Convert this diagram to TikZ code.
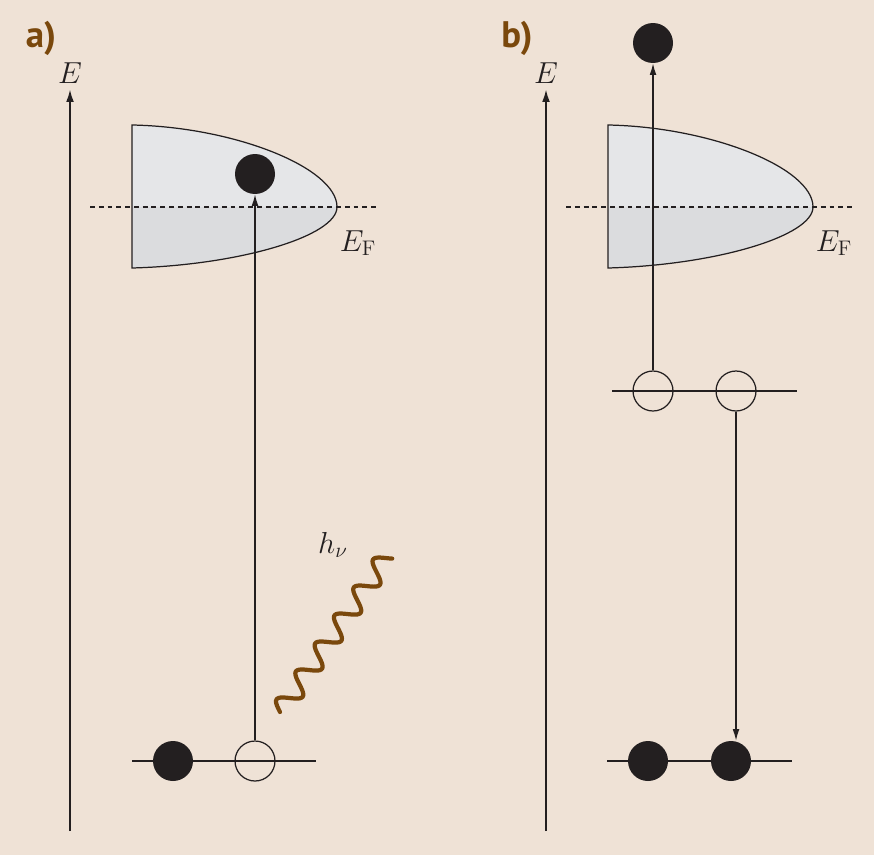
\documentclass[tikz,border=0pt]{standalone}
\usepackage{fontspec}
\newfontfamily\panelfont{PT Sans}
\usepackage{tikz}
\usetikzlibrary{arrows.meta}

\definecolor{paper}{RGB}{239,226,214}
\definecolor{rust}{RGB}{122,72,12}
\definecolor{bandup}{RGB}{229,230,232}
\definecolor{bandlow}{RGB}{219,220,222}
\definecolor{ink}{RGB}{35,31,32}

\tikzset{
  electron/.style={circle,fill=ink,inner sep=0pt,minimum size=0.8cm},
  hole/.style={circle,draw=ink,line width=0.7pt,inner sep=0pt,minimum size=0.8cm},
  level/.style={draw=ink,line width=0.7pt},
  jump/.style={draw=ink,line width=0.7pt,-{Latex[length=6.5pt,width=3.8pt]}},
  axis/.style={draw=ink,line width=0.85pt,-{Latex[length=7pt,width=4.4pt]}},
  fermi/.style={draw=ink,line width=0.65pt,dash pattern=on 2.8pt off 2.2pt},
  panel/.style={text=rust,font=\panelfont\bfseries\fontsize{21}{22}\selectfont},
  sym/.style={text=ink,font=\fontsize{17.28}{20}\selectfont},
}
\newcommand{\bandpath}{(132,125) .. controls (235,127) and (337,168) .. (337,207)
  .. controls (337,236) and (240,265) .. (132,268) -- cycle}

\begin{document}
\begin{tikzpicture}[x=0.02cm,y=-0.02cm]
\fill[paper] (0,0) rectangle (874,855);
\useasboundingbox (0,0) rectangle (874,855);

% a) photon absorption
\node[panel] (la) at (41,38) {a)};
\node[sym] (Ea) at (70,73) {$E$};
\coordinate (a0) at (70,831);
\draw[axis] (a0) -- (Ea);
\fill[bandup] \bandpath;
\begin{scope}
\clip (0,207) rectangle (874,300);
\fill[bandlow] \bandpath;
\end{scope}
\draw[ink,line width=0.7pt] \bandpath;
\draw[fermi] (90,207) -- (378,207);
\node[sym] (EFa) at (358,243) {$E_{\mathrm{F}}$};
\draw[level] (132,761) -- (316,761);
\node[electron] (ea1) at (173,761) {};
\node[hole] (ha1) at (255,761) {};
\node[electron] (ea2) at (255,174) {};
\draw[jump] (ha1) -- (ea2);
\begin{scope}[shift={(280,712)},rotate=55.4]
\draw[rust,line width=2.4pt,line cap=round] plot[domain=0:190,samples=160,smooth]
  (\x,{-10*sin(\x/34*360)});
\end{scope}
\node[sym] (hv) at (333,545) {$h_\nu$};

% b) Auger process
\begin{scope}[shift={(476,0)}]
\node[panel] (lb) at (41,38) {b)};
\node[sym] (Eb) at (70,73) {$E$};
\coordinate (b0) at (70,831);
\draw[axis] (b0) -- (Eb);
\fill[bandup] \bandpath;
\begin{scope}
\clip (0,207) rectangle (874,300);
\fill[bandlow] \bandpath;
\end{scope}
\draw[ink,line width=0.7pt] \bandpath;
\draw[fermi] (90,207) -- (378,207);
\node[sym] (EFb) at (358,243) {$E_{\mathrm{F}}$};
\draw[level] (136,391) -- (321,391);
\node[hole] (hb1) at (177,391) {};
\node[hole] (hb2) at (260,391) {};
\draw[level] (131,761) -- (316,761);
\node[electron] (eb1) at (172,761) {};
\node[electron] (eb2) at (255,761) {};
\node[electron] (eb3) at (177,43) {};
\draw[jump] (hb1) -- (eb3);
\draw[jump] (hb2) -- (hb2 |- eb2.north);
\end{scope}
\end{tikzpicture}
\end{document}
